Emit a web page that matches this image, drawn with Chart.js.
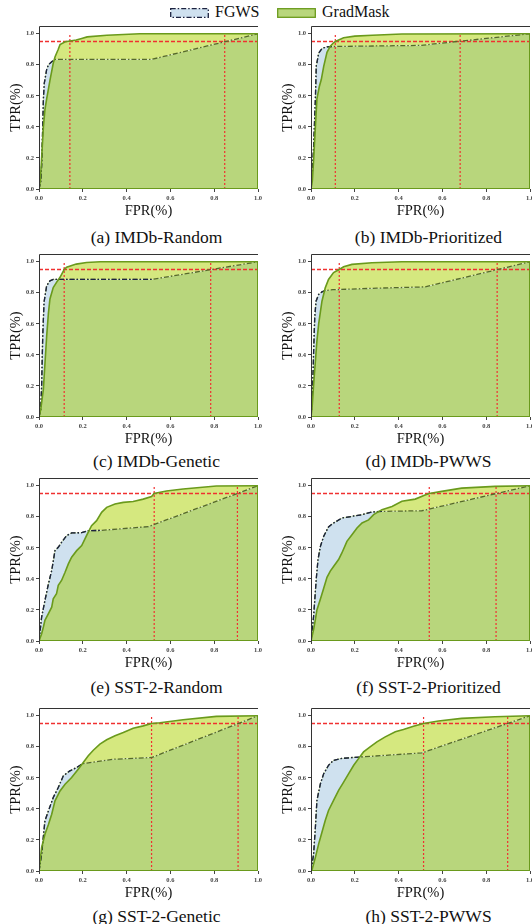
<!DOCTYPE html>
<html>
<head>
<meta charset="utf-8">
<script src="https://cdn.jsdelivr.net/npm/chart.js@4.4.0/dist/chart.umd.min.js"></script>
<style>
  body { margin: 0; width: 532px; height: 924px; background: #fff; position: relative; overflow: hidden; font-family: "Liberation Serif", "Times New Roman", serif; color: #111; }
  canvas { position: absolute; }
  .cap { position: absolute; font-size: 17.5px; white-space: nowrap; transform: translateX(-50%); line-height: 20px; }
  .leg { position: absolute; font-size: 16px; line-height: 18px; white-space: nowrap; }
  svg { position: absolute; }
</style>
</head>
<body>
<svg style="left:170px;top:8px" width="39" height="10"><rect x="0.7" y="0.7" width="37.6" height="8.6" fill="#cfe1ef" stroke="#1c2340" stroke-width="1.3" stroke-dasharray="5,2,1.5,2"/></svg>
<div class="leg" id="leg0" style="left:215px;top:3px"></div>
<svg style="left:277px;top:8px" width="39" height="10"><rect x="0.7" y="0.7" width="37.6" height="8.6" fill="#b8d67c" stroke="#6a9a1c" stroke-width="1.3"/></svg>
<div class="leg" id="leg1" style="left:322px;top:3px"></div>

<script>
//DATOS
const tickVals = [0, 0.2, 0.4, 0.6, 0.8, 1.0];
const seriesNames = ["FGWS", "GradMask"];
const captions = ["(a) IMDb-Random", "(b) IMDb-Prioritized", "(c) IMDb-Genetic", "(d) IMDb-PWWS",
  "(e) SST-2-Random", "(f) SST-2-Prioritized", "(g) SST-2-Genetic", "(h) SST-2-PWWS"];
const tprLevel = 0.95;
const vLineY = [0, 1];
const boxEdge = [[0, 0], [1, 0], [1, 1]];

// curvas ROC [FPR, TPR]
const gmA = [[0,0],[0.006,0.05],[0.012,0.2],[0.02,0.4],[0.027,0.51],[0.035,0.58],[0.05,0.70],[0.065,0.81],[0.073,0.85],[0.088,0.90],[0.096,0.93],[0.12,0.948],[0.141,0.953],[0.17,0.96],[0.195,0.97],[0.22,0.98],[0.31,0.99],[0.46,1.0],[1,1]];
const fgA = [[0,0],[0.008,0.05],[0.012,0.15],[0.017,0.4],[0.02,0.58],[0.024,0.68],[0.035,0.77],[0.043,0.80],[0.058,0.82],[0.073,0.835],[0.514,0.835],[1,1]];
const cutA = [0.141, 0.848];

const gmB = [[0,0],[0.006,0.05],[0.012,0.19],[0.02,0.40],[0.027,0.58],[0.038,0.66],[0.047,0.705],[0.058,0.79],[0.073,0.88],[0.088,0.92],[0.103,0.942],[0.111,0.95],[0.149,0.974],[0.2,0.985],[0.28,0.99],[0.415,0.998],[1,1]];
const fgB = [[0,0],[0.005,0.08],[0.012,0.275],[0.02,0.58],[0.024,0.79],[0.035,0.875],[0.05,0.905],[0.073,0.916],[0.1,0.918],[0.5,0.925],[1,1]];
const cutB = [0.111, 0.681];

const gmC = [[0,0],[0.008,0.05],[0.02,0.18],[0.035,0.52],[0.043,0.67],[0.05,0.76],[0.065,0.834],[0.08,0.867],[0.096,0.90],[0.115,0.95],[0.126,0.965],[0.17,0.985],[0.217,0.995],[0.28,1.0],[1,1]];
const fgC = [[0,0],[0.008,0.05],[0.012,0.2],[0.017,0.52],[0.023,0.74],[0.035,0.845],[0.05,0.877],[0.065,0.886],[0.514,0.886],[1,1]];
const cutC = [0.115, 0.784];

const gmD = [[0,0],[0.005,0.06],[0.012,0.21],[0.02,0.36],[0.027,0.49],[0.035,0.60],[0.05,0.746],[0.065,0.832],[0.08,0.886],[0.103,0.93],[0.129,0.95],[0.149,0.968],[0.187,0.983],[0.278,0.994],[0.415,1.0],[1,1]];
const fgD = [[0,0],[0.004,0.08],[0.008,0.21],[0.012,0.42],[0.017,0.64],[0.023,0.746],[0.035,0.79],[0.05,0.806],[0.065,0.815],[0.1,0.82],[0.3,0.83],[0.52,0.838],[1,1]];
const cutD = [0.129, 0.85];

const gmE = [[0,0],[0.012,0.047],[0.02,0.09],[0.027,0.133],[0.043,0.176],[0.058,0.218],[0.065,0.272],[0.08,0.304],[0.088,0.358],[0.103,0.39],[0.119,0.443],[0.134,0.497],[0.149,0.54],[0.172,0.582],[0.195,0.615],[0.217,0.679],[0.24,0.743],[0.263,0.775],[0.286,0.829],[0.309,0.861],[0.347,0.882],[0.385,0.893],[0.43,0.899],[0.476,0.914],[0.514,0.93],[0.526,0.95],[0.582,0.966],[0.658,0.979],[0.734,0.989],[0.81,0.998],[1,1]];
const fgE = [[0,0],[0.012,0.154],[0.027,0.26],[0.043,0.368],[0.058,0.454],[0.073,0.582],[0.088,0.604],[0.103,0.636],[0.126,0.679],[0.149,0.696],[0.195,0.698],[0.225,0.711],[0.278,0.712],[0.5,0.737],[1,1]];
const cutE = [0.526, 0.906];

const gmF = [[0,0],[0.012,0.075],[0.02,0.14],[0.027,0.2],[0.043,0.27],[0.058,0.34],[0.073,0.41],[0.088,0.45],[0.103,0.48],[0.126,0.525],[0.141,0.567],[0.164,0.642],[0.187,0.685],[0.21,0.728],[0.233,0.76],[0.263,0.78],[0.286,0.814],[0.324,0.846],[0.37,0.867],[0.415,0.9],[0.476,0.914],[0.521,0.94],[0.54,0.95],[0.597,0.964],[0.688,0.985],[0.84,0.996],[1,1]];
const fgF = [[0,0],[0.012,0.16],[0.024,0.40],[0.032,0.525],[0.043,0.61],[0.058,0.675],[0.08,0.735],[0.103,0.76],[0.141,0.792],[0.187,0.803],[0.233,0.814],[0.278,0.831],[0.324,0.835],[0.506,0.839],[1,1]];
const cutF = [0.54, 0.845];

const gmG = [[0,0],[0.012,0.15],[0.027,0.237],[0.043,0.30],[0.058,0.366],[0.073,0.452],[0.096,0.516],[0.119,0.559],[0.149,0.602],[0.179,0.656],[0.202,0.699],[0.225,0.742],[0.248,0.778],[0.278,0.817],[0.309,0.845],[0.347,0.871],[0.385,0.892],[0.43,0.92],[0.476,0.935],[0.514,0.95],[0.552,0.955],[0.658,0.974],[0.81,0.996],[1,1]];
const fgG = [[0,0],[0.012,0.108],[0.027,0.323],[0.043,0.387],[0.065,0.473],[0.088,0.538],[0.111,0.613],[0.141,0.645],[0.172,0.667],[0.195,0.688],[0.202,0.692],[0.339,0.72],[0.514,0.731],[1,1]];
const cutG = [0.514, 0.909];

const gmH = [[0,0],[0.005,0.01],[0.02,0.088],[0.035,0.175],[0.05,0.25],[0.065,0.325],[0.08,0.39],[0.103,0.455],[0.126,0.52],[0.149,0.573],[0.172,0.627],[0.195,0.681],[0.217,0.724],[0.24,0.767],[0.27,0.80],[0.301,0.832],[0.339,0.864],[0.385,0.897],[0.422,0.912],[0.468,0.933],[0.514,0.95],[0.582,0.966],[0.688,0.983],[0.84,0.994],[1,1]];
const fgH = [[0,0],[0.012,0.11],[0.02,0.28],[0.027,0.455],[0.043,0.5625],[0.058,0.627],[0.08,0.681],[0.103,0.713],[0.134,0.724],[0.179,0.73],[0.233,0.735],[0.506,0.761],[1,1]];
const cutH = [0.514, 0.898];

//COLORES
const cBlue = "#cfe1ef";
const cAbove = "#d5e87f";
const cBoth = "#b8d67c";
const cGm = "#6a9a1c";
const cFgDark = "#1c2340";
const cFgOlive = "#56692a";
const cRed = "#f03030";

const panels = [
  { gm: gmA, fg: fgA, cut: cutA, left: 39, top: 26 },
  { gm: gmB, fg: fgB, cut: cutB, left: 311, top: 26 },
  { gm: gmC, fg: fgC, cut: cutC, left: 39, top: 254 },
  { gm: gmD, fg: fgD, cut: cutD, left: 311, top: 254 },
  { gm: gmE, fg: fgE, cut: cutE, left: 39, top: 478 },
  { gm: gmF, fg: fgF, cut: cutF, left: 311, top: 478 },
  { gm: gmG, fg: fgG, cut: cutG, left: 39, top: 708 },
  { gm: gmH, fg: fgH, cut: cutH, left: 311, top: 708 },
];
const capTop = [227, 227, 451, 451, 677, 677, 906, 906];

const plotW = 219, plotH = 163;
const padL = 38, padT = 5, padR = 5, padB = 34;

function yAt(pts, x) {
  for (let i = 1; i < pts.length; i++) {
    if (x <= pts[i][0]) {
      const x0 = pts[i - 1][0], y0 = pts[i - 1][1], x1 = pts[i][0], y1 = pts[i][1];
      return x1 === x0 ? y1 : y0 + (y1 - y0) * (x - x0) / (x1 - x0);
    }
  }
  return pts[pts.length - 1][1];
}

// tramo de FGWS que queda por encima de GradMask (se ve oscuro)
function upperPart(fg, gm) {
  let k = 0;
  fg.forEach((pt, i) => { if (pt[1] > yAt(gm, pt[0]) + 0.002) k = i; });
  return fg.slice(0, Math.min(k + 2, fg.length));
}

function toXY(pts) {
  return pts.map((p) => ({ x: p[0], y: p[1] }));
}

const framePlugin = {
  id: "frame",
  afterDatasetsDraw(chart) {
    const { ctx, chartArea: a } = chart;
    ctx.save();
    ctx.strokeStyle = "#333";
    ctx.lineWidth = 1;
    ctx.setLineDash([]);
    ctx.beginPath();
    ctx.moveTo(Math.round(a.left) + 0.5, Math.round(a.bottom));
    ctx.lineTo(Math.round(a.left) + 0.5, Math.round(a.top) + 0.5);
    ctx.lineTo(Math.round(a.right), Math.round(a.top) + 0.5);
    ctx.stroke();
    ctx.restore();
  },
};

function axisOpts(title, isY) {
  return {
    type: "linear",
    min: 0,
    max: isY ? 1.05 : 1,
    afterBuildTicks: (s) => { s.ticks = tickVals.map((v) => ({ value: v })); },
    afterFit: (s) => {
      if (isY) { s.width = padL; s.paddingTop = 0; s.paddingBottom = 0; }
      else { s.height = padB; s.paddingLeft = 0; s.paddingRight = 0; }
    },
    grid: { display: true, drawOnChartArea: false, drawTicks: true, tickLength: 3, color: "#444" },
    border: { display: false },
    ticks: {
      padding: 2,
      maxRotation: 0,
      autoSkip: false,
      color: "#444",
      font: { family: "Liberation Serif", size: 6.5, weight: "bold" },
      callback: (v) => Number(v).toFixed(1),
    },
    title: {
      display: true,
      text: title,
      color: "#111",
      font: { family: "Liberation Serif", size: 14.5 },
      padding: isY ? { top: 6, bottom: 0 } : { top: 0, bottom: 3 },
    },
  };
}

function makePanel(p, i) {
  const cv = document.createElement("canvas");
  cv.width = padL + plotW + padR;
  cv.height = padT + plotH + padB;
  cv.style.left = (p.left - padL) + "px";
  cv.style.top = (p.top - padT) + "px";
  document.body.appendChild(cv);

  const cap = document.createElement("div");
  cap.className = "cap";
  cap.textContent = captions[i];
  cap.style.left = (p.left + plotW / 2 + 8) + "px";
  cap.style.top = capTop[i] + "px";
  document.body.appendChild(cap);

  const fgDash = [5, 2, 1.5, 2];
  const data = {
    datasets: [
      {
        label: seriesNames[1],
        data: toXY(p.gm),
        borderColor: cGm,
        borderWidth: 1.6,
        pointRadius: 0,
        fill: { target: 2, above: cAbove, below: cBlue },
      },
      {
        label: "fgTop",
        data: toXY(upperPart(p.fg, p.gm)),
        borderColor: cFgDark,
        borderWidth: 1.3,
        borderDash: fgDash,
        pointRadius: 0,
        fill: false,
      },
      {
        label: seriesNames[0],
        data: toXY(p.fg),
        borderColor: cFgOlive,
        backgroundColor: cBoth,
        borderWidth: 1.3,
        borderDash: fgDash,
        pointRadius: 0,
        fill: "origin",
      },
      {
        label: "edge",
        data: toXY(boxEdge),
        borderColor: cGm,
        borderWidth: 2,
        pointRadius: 0,
        fill: false,
      },
      {
        label: "tpr95",
        data: [{ x: 0, y: tprLevel }, { x: 1, y: tprLevel }],
        borderColor: cRed,
        borderWidth: 1.5,
        borderDash: [4, 2],
        pointRadius: 0,
        fill: false,
      },
      {
        label: "cutGm",
        data: vLineY.map((y) => ({ x: p.cut[0], y: y })),
        borderColor: cRed,
        borderWidth: 1.2,
        borderDash: [2, 2],
        pointRadius: 0,
        fill: false,
      },
      {
        label: "cutFg",
        data: vLineY.map((y) => ({ x: p.cut[1], y: y })),
        borderColor: cRed,
        borderWidth: 1.2,
        borderDash: [2, 2],
        pointRadius: 0,
        fill: false,
      },
    ],
  };

  const config = {
    type: "line",
    data: data,
    plugins: [framePlugin],
    options: {
      responsive: false,
      animation: false,
      devicePixelRatio: 1,
      layout: { padding: { top: padT, right: padR, left: 0, bottom: 0 } },
      plugins: {
        legend: { display: false },
        tooltip: { enabled: false },
        filler: { drawTime: "beforeDatasetsDraw" },
      },
      elements: { line: { tension: 0 } },
      scales: {
        x: axisOpts("FPR(%)", false),
        y: axisOpts("TPR(%)", true),
      },
    },
  };
  new Chart(cv, config);
}

document.getElementById("leg0").textContent = seriesNames[0];
document.getElementById("leg1").textContent = seriesNames[1];
panels.forEach(makePanel);
</script>
</body>
</html>
